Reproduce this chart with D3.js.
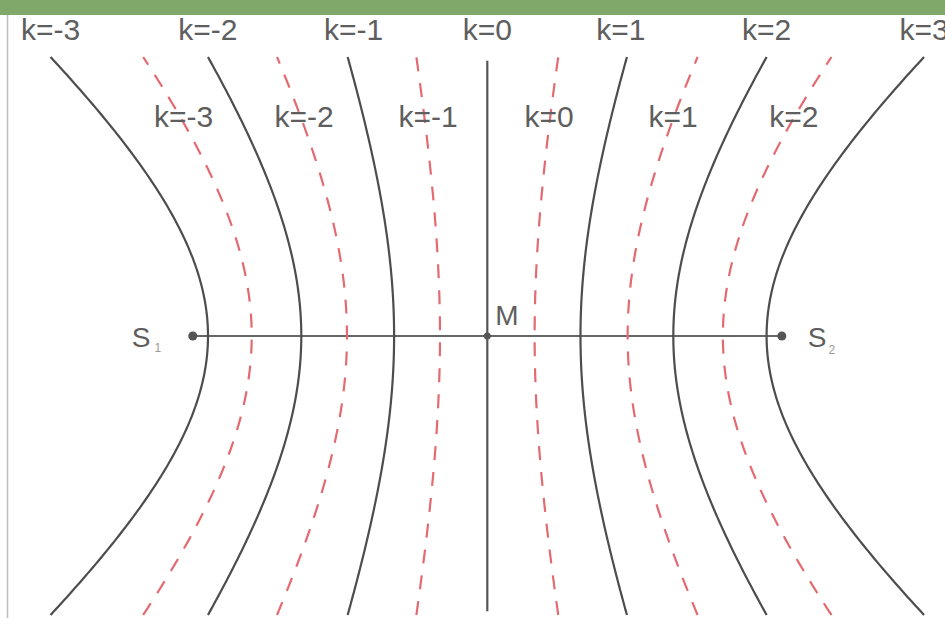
<!DOCTYPE html>
<html><head><meta charset="utf-8">
<script src="https://cdn.jsdelivr.net/npm/d3@7"></script>
<style>html,body{margin:0;padding:0;background:#fff;} svg{display:block;}</style>
</head><body><svg id="chart" width="945" height="618"></svg>
<script>
// ---- Data (units: spacing between neighbouring maxima along S1S2) ----
const maxOrders = [-3, -2, -1, 0, 1, 2, 3];          // solid curves (maxima)
const maxVertex = [-3.003, -2.0, -1.002, 0, 1.002, 2.0, 3.003]; // crossing of S1S2 (from M)
const maxSpread = [2.495, 2.677, 2.688, 0, 2.688, 2.677, 2.495]; // opening parameter of each curve
const minOrders = [-3, -2, -1, 0, 1, 2];             // dashed curves (minima)
const minVertex = [-2.533, -1.509, -0.509, 0.509, 1.509, 2.533];
const minSpread = [2.817, 2.688, 2.688, 2.688, 2.688, 2.817];
const curveHalfHeight = 3.0;       // curves end this far above/below S1S2
const centerLineHalf = 2.96;
const sourcePositions = [-3.167, 3.167];
const sourceNames = ["S", "S"];
const sourceSubs = ["1", "2"];
const centerName = "M";
const dashedLabelHeight = 2.366;

// ---- Drawing ----
const W = 945, H = 618;
const svg = d3.select("#chart");
const x = d3.scaleLinear().domain([-5.2398, 4.9215]).range([0, W]);
const y = d3.scaleLinear().domain([3.6129, -3.0323]).range([0, H]);

// hyperbola-like branch through vertex a with opening b
function branchX(a, b, v) { return a * Math.sqrt(1 + (v / b) * (v / b)); }
function curvePoints(a, b) {
  return d3.range(-curveHalfHeight, curveHalfHeight + 1e-9, curveHalfHeight / 60)
    .map(v => [branchX(a, b, v), v]);
}
const line = d3.line().x(d => x(d[0])).y(d => y(d[1])).curve(d3.curveBasis);

const FONT = "'Liberation Sans', Arial, Helvetica, sans-serif";
const TXT = "#5e5e5e";

// top green band
svg.append("rect").attr("x", 0).attr("y", 0).attr("width", W).attr("height", 15).attr("fill", "#80a86a");
// left frame line
svg.append("line").attr("x1", 7.5).attr("x2", 7.5).attr("y1", 15).attr("y2", H)
  .attr("stroke", "#bdbdbd").attr("stroke-width", 1.5);

// axis S1-S2
svg.append("line")
  .attr("x1", x(sourcePositions[0])).attr("x2", x(sourcePositions[1]))
  .attr("y1", y(0)).attr("y2", y(0))
  .attr("stroke", "#666").attr("stroke-width", 2);

// dashed minima
minOrders.forEach((k, i) => {
  svg.append("path").attr("d", line(curvePoints(minVertex[i], minSpread[i])))
    .attr("fill", "none").attr("stroke", "#e36a70").attr("stroke-width", 2.2)
    .attr("stroke-dasharray", "14,12");
});

// solid maxima
maxOrders.forEach((k, i) => {
  if (maxVertex[i] === 0) {
    svg.append("line").attr("x1", x(0)).attr("x2", x(0))
      .attr("y1", y(centerLineHalf)).attr("y2", y(-centerLineHalf))
      .attr("stroke", "#555").attr("stroke-width", 2.2);
  } else {
    svg.append("path").attr("d", line(curvePoints(maxVertex[i], maxSpread[i])))
      .attr("fill", "none").attr("stroke", "#4d4d4d").attr("stroke-width", 2.2);
  }
});

// dots
sourcePositions.forEach(s => {
  svg.append("circle").attr("cx", x(s)).attr("cy", y(0)).attr("r", 4.5).attr("fill", "#555");
});
svg.append("circle").attr("cx", x(0)).attr("cy", y(0)).attr("r", 3.5).attr("fill", "#555");

// top labels (maxima), centred above the upper end of each solid curve
maxOrders.forEach((k, i) => {
  const topU = maxVertex[i] === 0 ? 0 : branchX(maxVertex[i], maxSpread[i], curveHalfHeight);
  const t = svg.append("text").text("k=" + k)
    .attr("y", 40).attr("font-family", FONT).attr("font-size", 30).attr("fill", TXT);
  const w = t.node().getComputedTextLength();
  let cx = x(topU) - (Math.abs(k) === 1 ? Math.sign(k) * 6 : 0);
  if (cx - w / 2 < 6) cx = 6 + w / 2;
  t.attr("x", cx - w / 2);
});

// dashed labels (minima): the "=" sits on its dashed curve
const tmp1 = svg.append("text").text("k").attr("font-family", FONT).attr("font-size", 30);
const tmp2 = svg.append("text").text("k=").attr("font-family", FONT).attr("font-size", 30);
const eqC = (tmp1.node().getComputedTextLength() + tmp2.node().getComputedTextLength()) / 2;
tmp1.remove(); tmp2.remove();
minOrders.forEach((k, i) => {
  const cx = x(branchX(minVertex[i], minSpread[i], dashedLabelHeight));
  svg.append("text").text("k=" + k)
    .attr("x", cx - eqC - 2).attr("y", 127)
    .attr("font-family", FONT).attr("font-size", 30).attr("fill", TXT);
});

// source labels
const s1 = svg.append("text").attr("font-family", FONT).attr("fill", TXT)
  .attr("x", x(sourcePositions[0]) - 61).attr("y", 347);
s1.append("tspan").attr("font-size", 28).text(sourceNames[0]);
s1.append("tspan").attr("font-size", 12).attr("dx", 4).attr("dy", 5).attr("fill", "#999").text(sourceSubs[0]);
const s2 = svg.append("text").attr("font-family", FONT).attr("fill", TXT)
  .attr("x", x(sourcePositions[1]) + 26).attr("y", 347);
s2.append("tspan").attr("font-size", 28).text(sourceNames[1]);
s2.append("tspan").attr("font-size", 12).attr("dx", 2).attr("dy", 7).attr("fill", "#999").text(sourceSubs[1]);

// M label
svg.append("text").text(centerName).attr("x", x(0) + 8).attr("y", 325)
  .attr("font-family", FONT).attr("font-size", 28).attr("fill", TXT);
</script></body></html>
